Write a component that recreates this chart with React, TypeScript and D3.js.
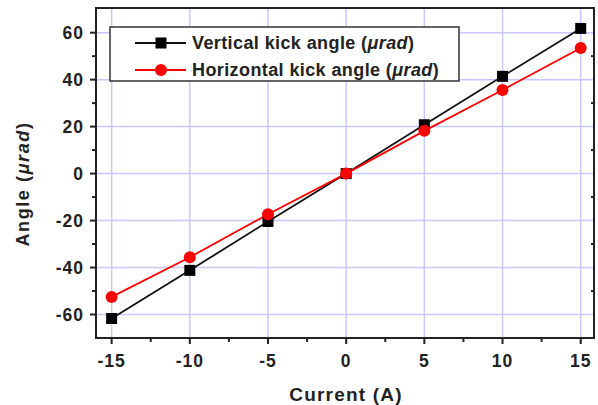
import React from "react";
import * as d3 from "d3";

const currents = [-15, -10, -5, 0, 5, 10, 15];
const verticalKick = [-61.7, -41.2, -20.4, 0, 20.8, 41.4, 61.8];
const horizontalKick = [-52.5, -35.6, -17.3, 0, 18.2, 35.6, 53.5];
const xTicks = [-15, -10, -5, 0, 5, 10, 15];
const yTicks = [-60, -40, -20, 0, 20, 40, 60];
const xMinor = [-12.5, -7.5, -2.5, 2.5, 7.5, 12.5];
const yMinor = [-50, -30, -10, 10, 30, 50];

const W = 598, H = 405;
const L = 96, R = 594, T = 8, B = 338;

export default function App() {
  const x = d3.scaleLinear().domain([-16, 15.85]).range([L, R]);
  const y = d3.scaleLinear().domain([-70, 70.5]).range([B, T]);
  const line = d3.line<number>().x((_, i) => x(currents[i])).y((d) => y(d));
  const font = "'Liberation Sans', Arial, sans-serif";
  const tc = "#222";
  return (
    <svg width={W} height={H} style={{ position: "absolute", left: 0, top: 0 }} fontFamily={font}>
      <rect width={W} height={H} fill="#fff" />
      {xTicks.map((t) => (
        <line key={"gx" + t} x1={x(t)} x2={x(t)} y1={T} y2={B} stroke="#c8c8ff" strokeWidth={1.5} />
      ))}
      {yTicks.map((t) => (
        <line key={"gy" + t} x1={L} x2={R} y1={y(t)} y2={y(t)} stroke="#c8c8ff" strokeWidth={1.5} />
      ))}
      <path d={line(verticalKick) || ""} fill="none" stroke="#111" strokeWidth={1.8} />
      <path d={line(horizontalKick) || ""} fill="none" stroke="#ff0000" strokeWidth={1.8} />
      {verticalKick.map((v, i) => (
        <rect key={"s" + i} x={x(currents[i]) - 5.5} y={y(v) - 5.5} width={11} height={11} fill="#000" />
      ))}
      {horizontalKick.map((v, i) => (
        <circle key={"c" + i} cx={x(currents[i])} cy={y(v)} r={6} fill="#ff0000" />
      ))}
      <rect x={L} y={T} width={R - L} height={B - T} fill="none" stroke="#222" strokeWidth={2} />
      {xTicks.map((t) => (
        <g key={"xt" + t}>
          <line x1={x(t)} x2={x(t)} y1={B} y2={B + 6} stroke="#222" strokeWidth={2} />
          <text x={x(t)} y={367} textAnchor="middle" fontSize={17.5} fontWeight="bold" letterSpacing={1} fill={tc}>{t}</text>
        </g>
      ))}
      {xMinor.map((t) => (
        <line key={"xm" + t} x1={x(t)} x2={x(t)} y1={B} y2={B + 4} stroke="#222" strokeWidth={2} />
      ))}
      {yTicks.map((t) => (
        <g key={"yt" + t}>
          <line x1={L - 6} x2={L} y1={y(t)} y2={y(t)} stroke="#222" strokeWidth={2} />
          <text x={84} y={y(t) + 6.2} textAnchor="end" fontSize={17.5} fontWeight="bold" letterSpacing={1} fill={tc}>{t}</text>
        </g>
      ))}
      {yMinor.map((t) => (
        <g key={"ym" + t}>
          <line x1={L - 4} x2={L} y1={y(t)} y2={y(t)} stroke="#222" strokeWidth={2} />
          <line x1={R - 3} x2={R} y1={y(t)} y2={y(t)} stroke="#222" strokeWidth={2} />
        </g>
      ))}
      <text x={346} y={401} textAnchor="middle" fontSize={19} fontWeight="bold" letterSpacing={1.2} fill={tc}>Current (A)</text>
      <text transform="translate(29,184) rotate(-90)" textAnchor="middle" fontSize={18} fontWeight="bold" letterSpacing={1.6} fill={tc}>
        Angle (<tspan fontStyle="italic">μrad</tspan>)
      </text>
      <rect x={110} y={27} width={349} height={54} fill="#fff" stroke="#333" strokeWidth={1.5} />
      <line x1={135} x2={186} y1={43} y2={43} stroke="#111" strokeWidth={1.8} />
      <rect x={155.5} y={37.5} width={11} height={11} fill="#000" />
      <text x={192} y={49.3} fontSize={18} fontWeight="bold" letterSpacing={0.4} fill={tc}>
        Vertical kick angle (<tspan fontStyle="italic">μrad</tspan>)
      </text>
      <line x1={135} x2={186} y1={70} y2={70} stroke="#ff0000" strokeWidth={1.8} />
      <circle cx={161} cy={70} r={6} fill="#ff0000" />
      <text x={192} y={76} fontSize={18} fontWeight="bold" letterSpacing={0.4} fill={tc}>
        Horizontal kick angle (<tspan fontStyle="italic">μrad</tspan>)
      </text>
    </svg>
  );
}
